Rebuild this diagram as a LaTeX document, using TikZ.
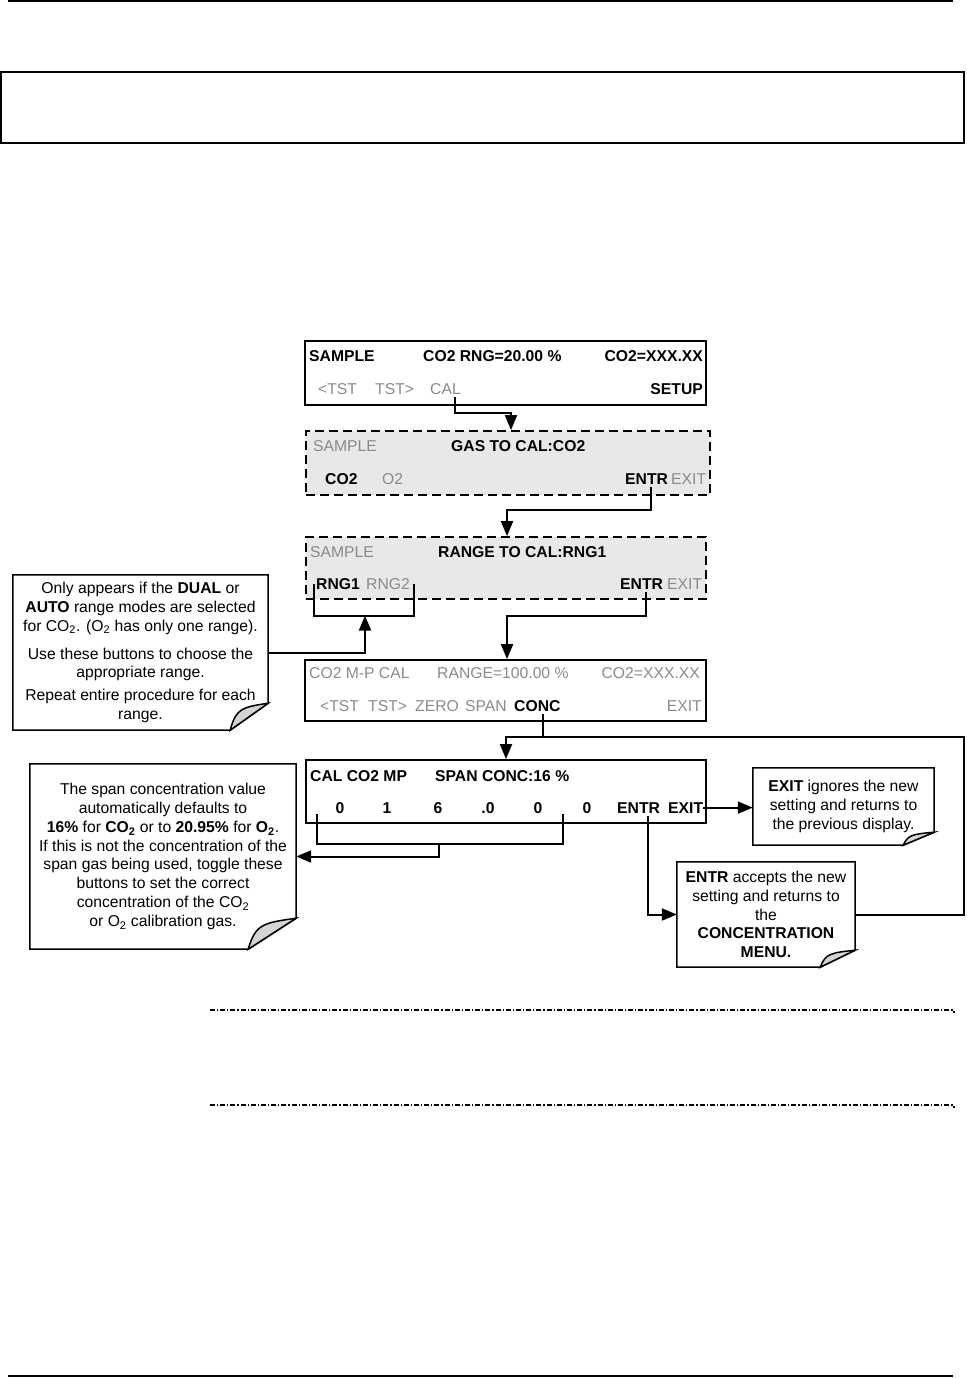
\documentclass[tikz,border=0pt]{standalone}
\usepackage{fontspec}
\setmainfont{Liberation Sans}
\usepackage{tikz}
\usetikzlibrary{arrows.meta,positioning,calc}
\definecolor{ink}{HTML}{000000}
\definecolor{dimtext}{HTML}{8A8A8A}
\definecolor{panelgray}{HTML}{E8E8E8}
\definecolor{foldgray}{HTML}{D4D4D4}
\newcommand\lcd{\fontsize{15.7}{18.8}\selectfont}
% note box with a curled bottom-right corner: node, fold width, fold height
\newcommand\foldnote[3]{%
  \coordinate (#1-r) at ($(#1.south east)+(0,-#3)$);
  \coordinate (#1-b) at ($(#1.south east)+(-#2,0)$);
  \draw[noteline] (#1.north west) -- (#1.north east) -- (#1-r) -- (#1-b) -- (#1.south west) -- cycle;
  \draw[noteline,fill=foldgray] (#1-b) .. controls ($(#1-b)+(0.15*#2,-0.8*#3)$) and ($(#1-r)+(-0.7*#2,0.15*#3)$) .. (#1-r) -- cycle;
}

\begin{document}
\begin{tikzpicture}[x=1pt,y=-1pt,every node/.style={font=\lcd},
  scr/.style={draw=ink,line width=1.8pt,minimum width=401pt,minimum height=64pt,inner sep=0pt},
  dscr/.style={scr,fill=panelgray,dash pattern=on 9pt off 5pt},
  tb/.style={inner sep=0pt,anchor=base west,font=\lcd\bfseries},
  tg/.style={inner sep=0pt,anchor=base west,text=dimtext},
  note/.style={inner sep=0pt,align=center},
  link/.style={line width=2pt,-{Triangle[length=15pt,width=12pt]}},
  wire/.style={line width=2pt},
  noteline/.style={line width=1.5pt,line join=miter},
  dotrule/.style={line width=1.1pt,dash pattern=on 5pt off 2pt on 1.2pt off 2pt}]
\useasboundingbox (0,0) rectangle (966,1378);

% page frame
\draw[line width=1.5pt] (8,1) -- (953,1);
\draw[line width=1.5pt] (0.75,72) rectangle (964,143);
\draw[line width=1.5pt] (8,1376) -- (953,1376);

% screens
\node[scr] (menu) at (505.5,373) {};
\node[dscr,minimum width=404pt] (gas) at (508,463) {};
\node[dscr,minimum width=400pt,minimum height=62pt] (rng) at (506,568) {};
\node[scr,minimum height=61pt] (mpcal) at (505.5,690.5) {};
\node[scr,minimum width=400pt,minimum height=63pt] (span) at (506,791.5) {};

% main menu
\node[tb] (m1) at (309,361) {SAMPLE};
\node[tb] (m2) at (423,361) {CO2 RNG=20.00 \%};
\node[tb,anchor=base east] (m3) at (703,361) {CO2=XXX.XX};
\node[tg] (m4) at (318,394) {<TST};
\node[tg] (m5) at (375,394) {TST>};
\node[tg] (cal) at (430,394) {CAL};
\node[tb,anchor=base east] (m6) at (703,394) {SETUP};

% gas select
\node[tg] (g1) at (313,451) {SAMPLE};
\node[tb] (g2) at (451,451) {GAS TO CAL:CO2};
\node[tb] (g3) at (325,484) {CO2};
\node[tg] (g4) at (382,484) {O2};
\node[tb] (entra) at (625,484) {ENTR};
\node[tg] (g5) at (671,484) {EXIT};

% range select
\node[tg] (r1) at (310,557) {SAMPLE};
\node[tb] (r2) at (438,557) {RANGE TO CAL:RNG1};
\node[tb] (rnga) at (316,589) {RNG1};
\node[tg] (rngb) at (366,589) {RNG2};
\node[tb] (entrb) at (620,589) {ENTR};
\node[tg] (r3) at (667,589) {EXIT};

% multipoint cal
\node[tg] (c1) at (309,678) {CO2 M-P CAL};
\node[tg] (c2) at (437,678) {RANGE=100.00 \%};
\node[tg,anchor=base east] (c3) at (700,678) {CO2=XXX.XX};
\node[tg] (c4) at (320,711) {<TST};
\node[tg] (c5) at (368,711) {TST>};
\node[tg] (c6) at (415,711) {ZERO};
\node[tg] (c7) at (465,711) {SPAN};
\node[tb] (conc) at (514,711) {CONC};
\node[tg,anchor=base east] (c8) at (702,711) {EXIT};

% span concentration
\node[tb] (s1) at (310,781) {CAL CO2 MP};
\node[tb] (s2) at (435,781) {SPAN CONC:16 \%};
\node[tb,anchor=base] (dg1) at (340,813) {0};
\node[tb,anchor=base] (dg2) at (387,813) {1};
\node[tb,anchor=base] (dg3) at (438,813) {6};
\node[tb,anchor=base] (dg4) at (488,813) {.0};
\node[tb,anchor=base] (dg5) at (538,813) {0};
\node[tb,anchor=base] (dg6) at (587,813) {0};
\node[tb] (entrc) at (617,813) {ENTR};
\node[tb] (exitc) at (668,813) {EXIT};

% notes
\node[note,minimum width=255pt,minimum height=155pt] (rngnote) at (140.5,652.5) {%
  Only appears if the \textbf{DUAL} or\\
  \textbf{AUTO} range modes are selected\\
  for CO\textsubscript{2}. (O\textsubscript{2} has only one range).\\[9pt]
  Use these buttons to choose the\\
  appropriate range.\\[4pt]
  Repeat entire procedure for each\\
  range.};
\foldnote{rngnote}{38}{27}
\node[note,minimum width=266pt,minimum height=185pt] (spannote) at (163,856.5) {%
  The span concentration value\\
  automatically defaults to\\
  \textbf{16\%} for \textbf{CO\textsubscript{2}} or to \textbf{20.95\%} for \textbf{O\textsubscript{2}}.\\
  If this is not the concentration of the\\
  span gas being used, toggle these\\
  buttons to set the correct\\
  concentration of the CO\textsubscript{2}\\
  or O\textsubscript{2} calibration gas.};
\foldnote{spannote}{48}{31}
\node[note,minimum width=181pt,minimum height=77pt] (exitnote) at (843.5,806.5) {%
  \textbf{EXIT} ignores the new\\
  setting and returns to\\
  the previous display.};
\foldnote{exitnote}{31}{13}
\node[note,minimum width=178pt,minimum height=105pt] (entrnote) at (766,914.5) {%
  \textbf{ENTR} accepts the new\\
  setting and returns to\\
  the\\
  \textbf{CONCENTRATION}\\
  \textbf{MENU.}};
\foldnote{entrnote}{35}{17}

% connectors
\draw[link] ([xshift=10pt,yshift=-3pt]cal.south) -- ++(0,16) -| ([xshift=3pt]gas.north);
\draw[link] ([xshift=4.5pt,yshift=-3pt]entra.south) -- ++(0,23) -| ([xshift=1pt]rng.north);
\draw[wire] ([xshift=-2pt]rnga.west) -- ++(0,32) coordinate (rngbot) -| ([xshift=4pt]rngb.east);
\draw[link] (rngnote.east) -| ([xshift=51pt]rngbot);
\draw[link] ([xshift=4.5pt,yshift=-3pt]entrb.south) -- ++(0,24) -| ([xshift=1.5pt]mpcal.north);
\draw[link] ([xshift=6pt,yshift=-3pt]conc.south) -- ++(0,23) coordinate (looptop) -| (span.north);
\draw[wire] (entrnote.east) -- ++(109,0) |- (looptop);
\draw[link] (exitc.east) -- (exitnote.west |- exitc.east);
\draw[link] ([xshift=9pt,yshift=-3pt]entrc.south) |- (entrnote.west);
\draw[wire] ([xshift=-18pt,yshift=-6pt]dg1.west) -- ++(0,30) coordinate (dgl) -| ([xshift=20.5pt,yshift=-6pt]dg5.east);
\coordinate (dgmid) at ($(dgl)+(122,0)$);
\draw[link] (dgmid) |- (spannote.east);

% dash-dot rules
\draw[dotrule] (210,1010) -- (954,1010) -- ++(0,3);
\draw[dotrule] (210,1105) -- (954,1105) -- ++(0,3);
\end{tikzpicture}
\end{document}
